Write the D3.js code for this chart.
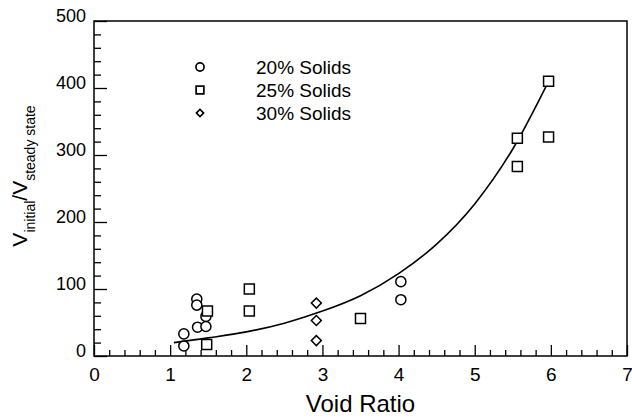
<!DOCTYPE html>
<html>
<head>
<meta charset="utf-8">
<script src="https://cdn.jsdelivr.net/npm/d3@7/dist/d3.min.js"></script>
<style>
  html, body { margin: 0; padding: 0; background: #fff; }
  svg { display: block; font-family: "Liberation Sans", Arial, Helvetica, sans-serif; }
</style>
</head>
<body>
<svg id="chart" width="632" height="418"></svg>
<script>
// Flow-rate ratio against void ratio for three slurry concentrations
const solids20X = [1.18, 1.18, 1.35, 1.35, 1.36, 1.47, 1.47, 4.03, 4.03];
const solids20Y = [33, 15, 85, 76, 43, 59, 44, 111, 84];

const solids25X = [1.49, 1.48, 2.04, 2.04, 3.50, 5.56, 5.56, 5.97, 5.97];
const solids25Y = [67, 17, 100, 67, 56, 325, 283, 410, 327];

const solids30X = [2.92, 2.92, 2.92];
const solids30Y = [79, 53, 23];

// Trend curve through the data
const curveX = [1.05, 1.5, 2.0, 2.5, 3.0, 3.5, 4.0, 4.5, 5.0, 5.5, 5.97];
const curveY = [20, 27, 36, 49, 67, 90, 123, 167, 227, 309, 410];

const seriesNames = ["20% Solids", "25% Solids", "30% Solids"];
const xTicks = [0, 1, 2, 3, 4, 5, 6, 7];
const yTicks = [0, 100, 200, 300, 400, 500];

const svg = d3.select("#chart");
const plotLeft = 94, plotRight = 627, plotTop = 21, plotBottom = 356;

const x = d3.scaleLinear().domain([0, 7]).range([plotLeft, plotRight]);
const y = d3.scaleLinear().domain([0, 500]).range([plotBottom, plotTop]);

// minor ticks
const xMinor = d3.range(0, 7.0001, 0.2).filter(v => Math.abs(v - Math.round(v)) > 1e-6);
const yMinor = d3.range(0, 500.001, 20).filter(v => v % 100 !== 0);

const axisStyle = g => {
  g.select(".domain").remove();
  g.selectAll(".tick line").attr("stroke", "#000").attr("stroke-width", 1.3);
};

svg.append("g")
  .attr("transform", `translate(0,${plotBottom})`)
  .call(d3.axisBottom(x).tickValues(xMinor).tickSize(-6).tickFormat(""))
  .call(axisStyle);

svg.append("g")
  .attr("transform", `translate(0,${plotBottom})`)
  .call(d3.axisBottom(x).tickValues(xTicks).tickSize(-11).tickFormat(d3.format("d")))
  .call(axisStyle)
  .call(g => g.selectAll(".tick text")
    .attr("fill", "#000").attr("font-size", 19).attr("dy", "0.71em")
    .attr("y", 12));

svg.append("g")
  .attr("transform", `translate(${plotLeft},0)`)
  .call(d3.axisLeft(y).tickValues(yMinor).tickSize(-7).tickFormat(""))
  .call(axisStyle);

svg.append("g")
  .attr("transform", `translate(${plotLeft},0)`)
  .call(d3.axisLeft(y).tickValues(yTicks).tickSize(-13).tickFormat(d3.format("d")))
  .call(axisStyle)
  .call(g => g.selectAll(".tick text")
    .attr("fill", "#000").attr("font-size", 18)
    .attr("x", -8).attr("dy", "0em"));

// frame
svg.append("rect")
  .attr("x", plotLeft).attr("y", plotTop)
  .attr("width", plotRight - plotLeft).attr("height", plotBottom - plotTop)
  .attr("fill", "none").attr("stroke", "#000").attr("stroke-width", 1.5);

// axis titles
svg.append("text")
  .attr("x", (plotLeft + plotRight) / 2).attr("y", 412)
  .attr("text-anchor", "middle").attr("font-size", 24)
  .text("Void Ratio");

const yTitle = svg.append("text")
  .attr("transform", "translate(27,176) rotate(-90)")
  .attr("text-anchor", "middle");
yTitle.append("tspan").attr("font-size", 21).text("V");
yTitle.append("tspan").attr("font-size", 14).attr("dy", 8).text("initial");
yTitle.append("tspan").attr("font-size", 21).attr("dy", -8).text("/V");
yTitle.append("tspan").attr("font-size", 14).attr("dy", 8).text("steady state");

// curve
const line = d3.line().x(d => x(d[0])).y(d => y(d[1])).curve(d3.curveMonotoneX);
svg.append("path")
  .datum(d3.zip(curveX, curveY))
  .attr("d", line)
  .attr("fill", "none").attr("stroke", "#000").attr("stroke-width", 1.6);

// markers: circle, square, and a square turned 45° for the diamond
const symbols = [d3.symbolCircle, d3.symbolSquare, d3.symbolSquare];
const rotations = [0, 0, 45];
const sizes = [80, 100, 50];
const legendSizes = [52, 60, 26];
const data = [
  d3.zip(solids20X, solids20Y),
  d3.zip(solids25X, solids25Y),
  d3.zip(solids30X, solids30Y)
];

data.forEach((pts, i) => {
  svg.append("g").selectAll("path")
    .data(pts)
    .join("path")
    .attr("transform", d => `translate(${x(d[0])},${y(d[1])}) rotate(${rotations[i]})`)
    .attr("d", d3.symbol(symbols[i], sizes[i]))
    .attr("fill", "#fff").attr("stroke", "#000").attr("stroke-width", 1.5);
});

// legend
const legendRows = [67, 90, 113];
seriesNames.forEach((name, i) => {
  svg.append("path")
    .attr("transform", `translate(200,${legendRows[i]}) rotate(${rotations[i]})`)
    .attr("d", d3.symbol(symbols[i], legendSizes[i]))
    .attr("fill", "#fff").attr("stroke", "#000").attr("stroke-width", 1.7);
  svg.append("text")
    .attr("x", 256).attr("y", legendRows[i]).attr("dy", "0.36em")
    .attr("font-size", 19)
    .text(name);
});
</script>
</body>
</html>
